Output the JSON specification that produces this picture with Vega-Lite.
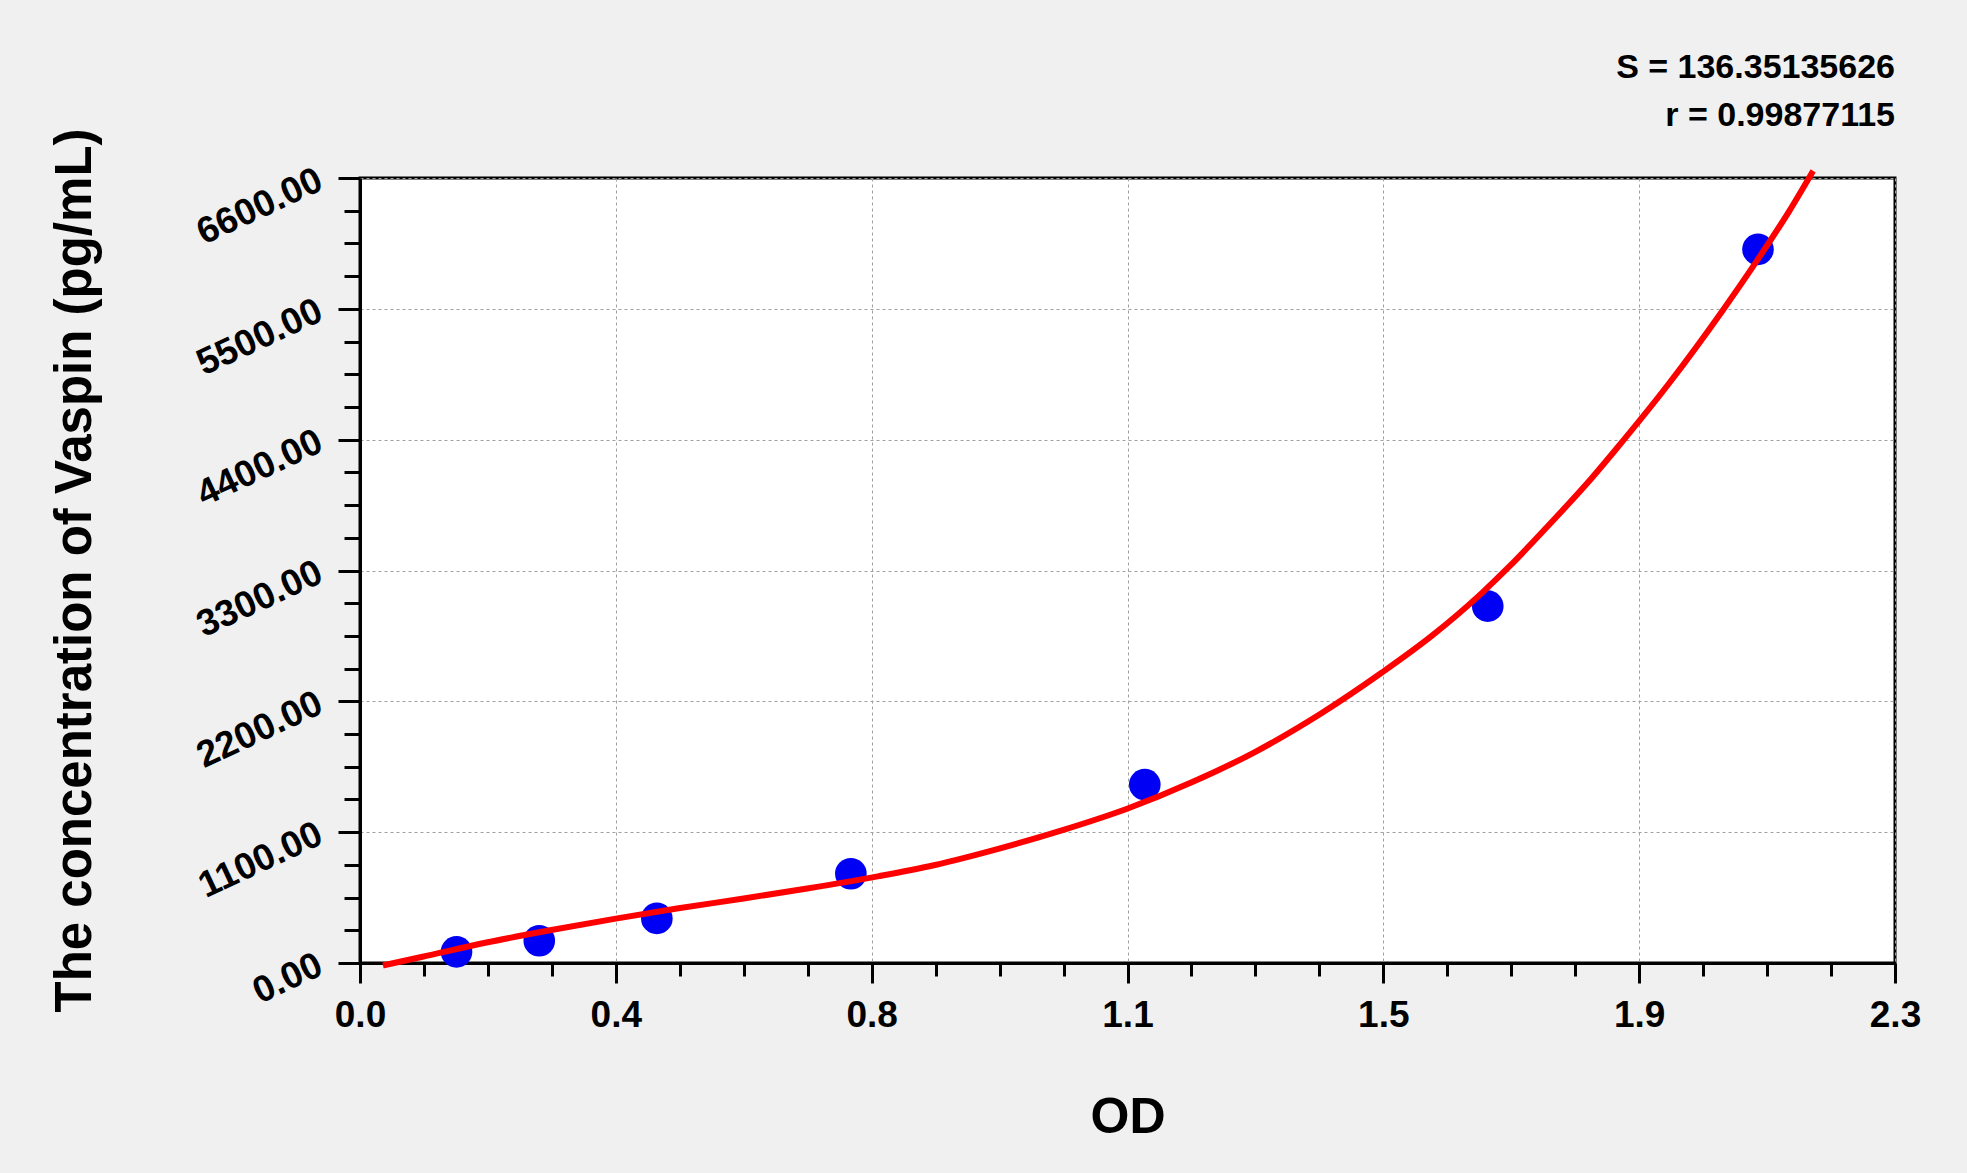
{
  "$schema": "https://vega.github.io/schema/vega-lite/v6.json",
  "width": 1535,
  "height": 785,
  "autosize": "none",
  "padding": {"left": 360, "top": 178, "right": 72, "bottom": 210},
  "background": "#f0f0f0",
  "config": {
    "view": {"fill": "white", "stroke": "black", "strokeWidth": 3},
    "font": "Liberation Sans"
  },
  "title": {
    "text": ["S = 136.35135626", "r = 0.99877115"],
    "anchor": "end",
    "frame": "group",
    "align": "right",
    "font": "Liberation Sans",
    "fontSize": 34,
    "fontWeight": "bold",
    "color": "black",
    "lineHeight": 48,
    "offset": -32,
    "baseline": "alphabetic"
  },
  "datasets": {
    "standards": [
      {"od": 0.1446, "conc": 93.75},
      {"od": 0.2686, "conc": 187.5},
      {"od": 0.4448, "conc": 375},
      {"od": 0.7355, "conc": 750},
      {"od": 1.1759, "conc": 1500},
      {"od": 1.6898, "conc": 3000},
      {"od": 2.0947, "conc": 6000}
    ],
    "fit": [
      {"od": 0.0344, "conc": -20},
      {"od": 0.092, "conc": 50},
      {"od": 0.1896, "conc": 172},
      {"od": 0.2846, "conc": 275},
      {"od": 0.3833, "conc": 373},
      {"od": 0.4748, "conc": 458},
      {"od": 0.5749, "conc": 542},
      {"od": 0.67, "conc": 626},
      {"od": 0.7776, "conc": 730},
      {"od": 0.86, "conc": 822},
      {"od": 0.9577, "conc": 962},
      {"od": 1.0528, "conc": 1117},
      {"od": 1.1504, "conc": 1299},
      {"od": 1.248, "conc": 1523},
      {"od": 1.343, "conc": 1780},
      {"od": 1.4406, "conc": 2100},
      {"od": 1.5307, "conc": 2440},
      {"od": 1.6058, "conc": 2750},
      {"od": 1.6808, "conc": 3110},
      {"od": 1.7233, "conc": 3340},
      {"od": 1.781, "conc": 3680},
      {"od": 1.846, "conc": 4080},
      {"od": 1.8835, "conc": 4330},
      {"od": 1.961, "conc": 4870},
      {"od": 2.041, "conc": 5480},
      {"od": 2.0962, "conc": 5930},
      {"od": 2.1413, "conc": 6320},
      {"od": 2.1773, "conc": 6660}
    ]
  },
  "resolve": {"axis": {"x": "independent", "y": "independent"}},
  "layer": [
    {
      "data": {"name": "standards"},
      "mark": {"type": "circle", "size": 1000, "color": "#0000f5", "opacity": 1},
      "encoding": {
        "x": {
          "field": "od",
          "type": "quantitative",
          "scale": {"domain": [0, 2.3], "nice": false, "zero": false},
          "axis": {
            "orient": "bottom",
            "values": [0.095833, 0.191667, 0.2875, 0.479167, 0.575, 0.670833, 0.8625, 0.958333, 1.054167, 1.245833, 1.341667, 1.4375, 1.629167, 1.725, 1.820833, 2.0125, 2.108333, 2.204167],
            "labels": false,
            "grid": false,
            "domain": false,
            "title": null,
            "tickSize": 13,
            "tickWidth": 3,
            "tickColor": "black"
          }
        },
        "y": {
          "field": "conc",
          "type": "quantitative",
          "scale": {"domain": [0, 6600], "nice": false, "zero": false},
          "axis": {
            "orient": "left",
            "values": [275, 550, 825, 1375, 1650, 1925, 2475, 2750, 3025, 3575, 3850, 4125, 4675, 4950, 5225, 5775, 6050, 6325],
            "labels": false,
            "grid": false,
            "domain": false,
            "title": null,
            "tickSize": 16,
            "tickWidth": 3,
            "tickColor": "black"
          }
        }
      }
    },
    {
      "data": {"name": "fit"},
      "mark": {"type": "line", "color": "#ff0000", "strokeWidth": 6, "interpolate": "monotone"},
      "encoding": {
        "x": {
          "field": "od",
          "type": "quantitative",
          "axis": {
            "orient": "bottom",
            "values": [0, 0.383333, 0.766667, 1.15, 1.533333, 1.916667, 2.3],
            "labelExpr": "['0.0','0.4','0.8','1.1','1.5','1.9','2.3'][round(datum.value / 2.3 * 6)]",
            "labelFont": "Liberation Sans",
            "labelFontSize": 37,
            "labelFontWeight": "bold",
            "labelColor": "black",
            "labelPadding": 14,
            "labelBaseline": "top",
            "labelFlush": false,
            "labelOverlap": false,
            "tickSize": 20,
            "tickWidth": 3,
            "tickColor": "black",
            "domainColor": "black",
            "domainWidth": 3,
            "grid": true,
            "gridColor": "#a0a0a0",
            "gridDash": [3, 3],
            "gridWidth": 1,
            "title": "OD",
            "titleFont": "Liberation Sans",
            "titleFontSize": 50,
            "titleFontWeight": "bold",
            "titleColor": "black",
            "titleBaseline": "alphabetic",
            "titleY": 169
          }
        },
        "y": {
          "field": "conc",
          "type": "quantitative",
          "axis": {
            "orient": "left",
            "values": [0, 1100, 2200, 3300, 4400, 5500, 6600],
            "format": ".2f",
            "labelFont": "Liberation Sans",
            "labelFontSize": 37,
            "labelFontWeight": "bold",
            "labelColor": "black",
            "labelAngle": -25,
            "labelAlign": "right",
            "labelBaseline": "middle",
            "labelPadding": 18,
            "labelFlush": false,
            "labelOverlap": false,
            "tickSize": 22,
            "tickWidth": 3,
            "tickColor": "black",
            "domainColor": "black",
            "domainWidth": 3,
            "grid": true,
            "gridColor": "#a0a0a0",
            "gridDash": [3, 3],
            "gridWidth": 1,
            "title": "The concentration of Vaspin (pg/mL)",
            "titleFont": "Liberation Sans",
            "titleFontSize": 51,
            "titleFontWeight": "bold",
            "titleColor": "black",
            "titleAngle": -90,
            "titleAlign": "center",
            "titleBaseline": "middle",
            "titleX": -285,
            "titleY": 392
          }
        }
      }
    }
  ]
}
